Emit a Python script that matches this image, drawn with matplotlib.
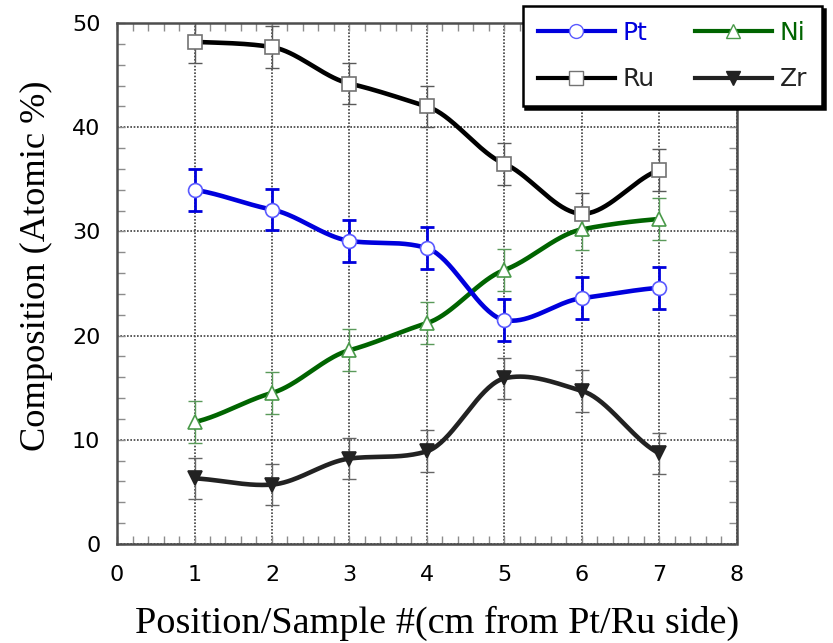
import numpy as np
import matplotlib.pyplot as plt
from matplotlib.ticker import MultipleLocator
from matplotlib.lines import Line2D

# sample positions (cm from the Pt/Ru side)
position = [1, 2, 3, 4, 5, 6, 7]

pt = [34.0, 32.1, 29.1, 28.4, 21.5, 23.6, 24.6]
ni = [11.7, 14.5, 18.6, 21.2, 26.3, 30.2, 31.2]
ru = [48.2, 47.7, 44.2, 42.0, 36.5, 31.7, 35.9]
zr = [6.3, 5.7, 8.2, 8.9, 15.9, 14.7, 8.7]

pt_err = [2.0] * 7
ni_err = [2.0] * 7
ru_err = [2.0] * 7
zr_err = [2.0] * 7


def smooth(x, y, tension=0.6, n=40):
    """Cardinal (tensioned Catmull-Rom) curve through the points."""
    x = np.asarray(x, float)
    y = np.asarray(y, float)
    m = np.empty_like(y)
    m[1:-1] = (y[2:] - y[:-2]) / (x[2:] - x[:-2])
    m[0] = (y[1] - y[0]) / (x[1] - x[0])
    m[-1] = (y[-1] - y[-2]) / (x[-1] - x[-2])
    m *= tension
    xs_all, ys_all = [], []
    for i in range(len(x) - 1):
        h = x[i + 1] - x[i]
        t = np.linspace(0, 1, n)
        h00 = 2 * t**3 - 3 * t**2 + 1
        h10 = t**3 - 2 * t**2 + t
        h01 = -2 * t**3 + 3 * t**2
        h11 = t**3 - t**2
        xs_all.append(x[i] + t * h)
        ys_all.append(h00 * y[i] + h10 * h * m[i] + h01 * y[i + 1] + h11 * h * m[i + 1])
    return np.concatenate(xs_all), np.concatenate(ys_all)


fig = plt.figure(figsize=(8.33, 6.43), dpi=100)
ax = fig.add_axes([0.1405, 0.154, 0.744, 0.810])

series = [
    # values, errors, line colour, marker, face, edge, bar colour, bar width
    (ru, ru_err, 'black', 's', 'white', '0.45', '0.35', 1.0),
    (ni, ni_err, '#006400', '^', 'white', '#4a9a4a', '#5a9a5a', 1.0),
    (zr, zr_err, '#222222', 'v', '#222222', '#222222', '0.4', 1.0),
    (pt, pt_err, '#0000dd', 'o', 'white', '#5a5aff', '#0000dd', 2.0),
]

for vals, err, col, mk, mfc, mec, ecol, elw in series:
    ax.errorbar(position, vals, yerr=err, fmt='none', ecolor=ecol,
                elinewidth=elw, capsize=5, capthick=elw, zorder=2)
    xs, ys = smooth(position, vals)
    ax.plot(xs, ys, color=col, linewidth=3.3, zorder=3, solid_capstyle='round')
    ax.plot(position, vals, linestyle='none', marker=mk, markersize=10,
            markerfacecolor=mfc, markeredgecolor=mec, markeredgewidth=1.2, zorder=4)

ax.set_xlim(0, 8)
ax.set_ylim(0, 50)
ax.xaxis.set_major_locator(MultipleLocator(1))
ax.xaxis.set_minor_locator(MultipleLocator(0.2))
ax.yaxis.set_major_locator(MultipleLocator(10))
ax.yaxis.set_minor_locator(MultipleLocator(2))
ax.tick_params(which='both', direction='in', top=True, right=True, color='0.55')
ax.tick_params(which='major', length=6, width=1.0, labelsize=16)
ax.tick_params(which='minor', length=6, width=1.0)
ax.tick_params(axis='x', pad=15)
ax.tick_params(axis='y', pad=12)
ax.grid(True, which='major', linestyle=(0, (1, 1)), color='0.25', linewidth=1.2)
for s in ax.spines.values():
    s.set_linestyle((0, (1, 1)))
    s.set_color('0.3')
    s.set_linewidth(1.8)

ax.set_xlabel('Position/Sample #(cm from Pt/Ru side)', family='Liberation Serif',
              fontsize=27.5, labelpad=15)
ax.xaxis.label.set_x(0.517)
ax.set_ylabel('Composition (Atomic %)', family='Liberation Serif', fontsize=26.2)
ax.yaxis.set_label_coords(-0.103, 0.535)

# legend fills column-wise: Pt, Ru | Ni, Zr
handles = [
    Line2D([], [], color='#0000dd', lw=3, marker='o', ms=10, mfc='white', mec='#5a5aff'),
    Line2D([], [], color='black', lw=3, marker='s', ms=10, mfc='white', mec='0.45'),
    Line2D([], [], color='#006400', lw=3, marker='^', ms=10, mfc='white', mec='#4a9a4a'),
    Line2D([], [], color='#222222', lw=3, marker='v', ms=10, mfc='#222222', mec='#222222'),
]
labels = ['Pt', 'Ru', 'Ni', 'Zr']
leg = fig.legend(handles, labels, ncol=2, loc='upper right',
                 bbox_to_anchor=(0.987, 0.991), borderaxespad=0.0,
                 frameon=True, fancybox=False,
                 shadow={'color': 'black', 'alpha': 1.0}, fontsize=18,
                 handlelength=3.1, columnspacing=1.6, handletextpad=0.3,
                 borderpad=0.6, labelspacing=0.9, edgecolor='black')
leg.get_frame().set_linewidth(1.8)
for txt, c in zip(leg.get_texts(), ['#0000dd', '#222222', '#006400', '#222222']):
    txt.set_color(c)

fig.savefig('out.png', dpi=100)
